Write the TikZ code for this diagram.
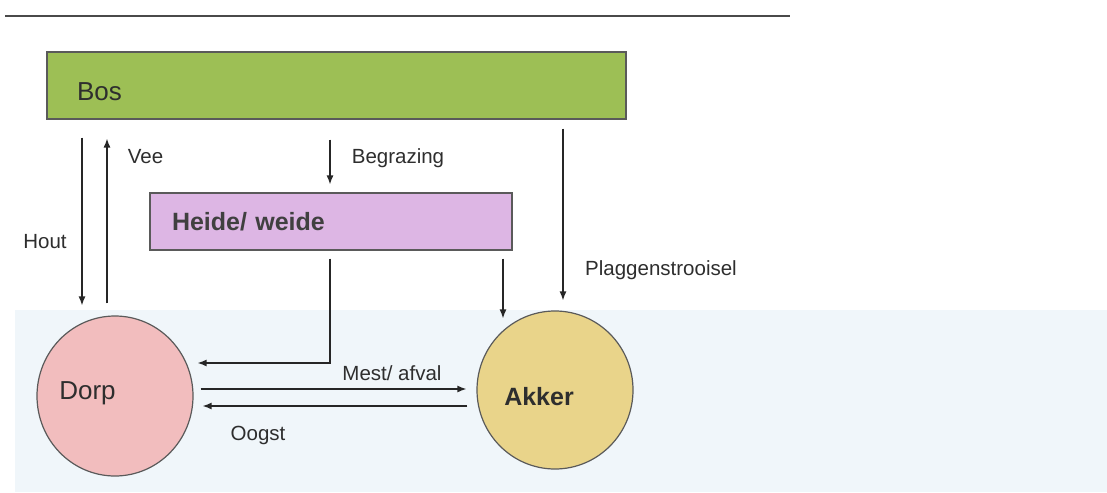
\documentclass[tikz,border=0pt]{standalone}
\usepackage{fontspec}
\setmainfont{Liberation Sans}
\usetikzlibrary{arrows.meta,calc,shapes.geometric}

\definecolor{bosgreen}{HTML}{9DBF55}
\definecolor{heidepink}{HTML}{DDB6E4}
\definecolor{dorppink}{HTML}{F2BDBE}
\definecolor{akkeryellow}{HTML}{E9D48A}
\definecolor{panelblue}{HTML}{F0F6FA}
\definecolor{edgegray}{HTML}{5A5A5A}
\definecolor{rulegray}{HTML}{4A4A4A}
\definecolor{inkgray}{HTML}{2E2E2E}

\tikzset{
  landbox/.style={draw=edgegray, line width=1.1pt, rectangle, inner ysep=0pt,
    font=\fontsize{26}{30}\selectfont, text=inkgray},
  landround/.style={draw=edgegray, line width=1.2pt, ellipse, inner sep=0pt},
  roundtext/.style={font=\fontsize{26}{30}\selectfont, inner sep=0pt, text=inkgray},
  flowlabel/.style={font=\fontsize{20.5}{24}\selectfont, text=inkgray, inner sep=0pt},
  flow/.style={draw=black!85, line width=1.4pt, -{Latex[length=9pt,width=7pt]}},
}

\begin{document}
\begin{tikzpicture}[x=1pt,y=-1pt]
  \useasboundingbox (0,0) rectangle (1107,492);
  \fill[white] (0,0) rectangle (1107,492);

  % pale panel behind the lower half
  \fill[panelblue] (15,310) rectangle (1107,492);

  % rule across the top
  \draw[rulegray, line width=2pt] (5,16) -- (790,16);

  % land-use units
  \node[landbox, fill=bosgreen, minimum height=67pt, text width=519pt,
        inner xsep=30pt, align=left, text height=31pt, text depth=0pt]
        (bos) at (336.5,85.5) {Bos};
  \node[landbox, fill=heidepink, minimum height=57pt, text width=318pt,
        inner xsep=22pt, align=left, font=\fontsize{25}{30}\selectfont\bfseries,
        text=black!75] (heide) at (331,221.5) {Heide/ weide};
  \node[landround, fill=dorppink, minimum width=156pt, minimum height=160pt]
        (dorp) at (115,396) {};
  \node[landround, fill=akkeryellow, minimum width=156pt, minimum height=158pt]
        (akker) at (555,390) {};
  \node[roundtext] (dorptext) at ($(dorp.center)+(-27.5,-3)$) {Dorp};
  \node[roundtext, font=\fontsize{25}{30}\selectfont\bfseries] (akkertext)
        at ($(akker.center)+(-16,7)$) {Akker};

  % columns and rows used by the flows
  \coordinate (xhout) at (82,0);
  \coordinate (xvee) at (107,0);
  \coordinate (xgraze) at (330,0);
  \coordinate (xheide) at (503,0);
  \coordinate (xplag) at (563,0);
  \coordinate (yback) at (0,363);
  \coordinate (ymest) at (0,389);
  \coordinate (yoogst) at (0,406);

  % flows
  \draw[flow] ([yshift=-18pt]bos.south -| xhout) -- ([yshift=10pt]dorp.north -| xhout);
  \draw[flow] ([yshift=12pt]dorp.north -| xvee) -- ([yshift=-19pt]bos.south -| xvee);
  \draw[flow] ([yshift=-20pt]bos.south -| xgraze) -- ([yshift=8pt]heide.north -| xgraze);
  \draw[flow] ([yshift=-8pt]heide.south -| xgraze) |- ([xshift=4pt]dorp.east |- yback);
  \draw[flow] ([yshift=-8pt]heide.south -| xheide) -- ([yshift=-8pt]akker.north -| xheide);
  \draw[flow] ([yshift=-9pt]bos.south -| xplag) -- ([yshift=10pt]akker.north -| xplag);
  \draw[flow] ([xshift=7pt]dorp.east |- ymest) -- ([xshift=-10pt]akker.west |- ymest);
  \draw[flow] ([xshift=-9pt]akker.west |- yoogst) -- ([xshift=9pt]dorp.east |- yoogst);

  % flow labels
  \node[flowlabel] (lhout) at (45,242) {Hout};
  \node[flowlabel] (lvee) at (145.5,157) {Vee};
  \node[flowlabel] (lgraze) at (398,158) {Begrazing};
  \node[flowlabel] (lplag) at (661,270) {Plaggenstrooisel};
  \node[flowlabel] (lmest) at (392,373) {Mest/ afval};
  \node[flowlabel] (loogst) at (258,435) {Oogst};
\end{tikzpicture}
\end{document}
